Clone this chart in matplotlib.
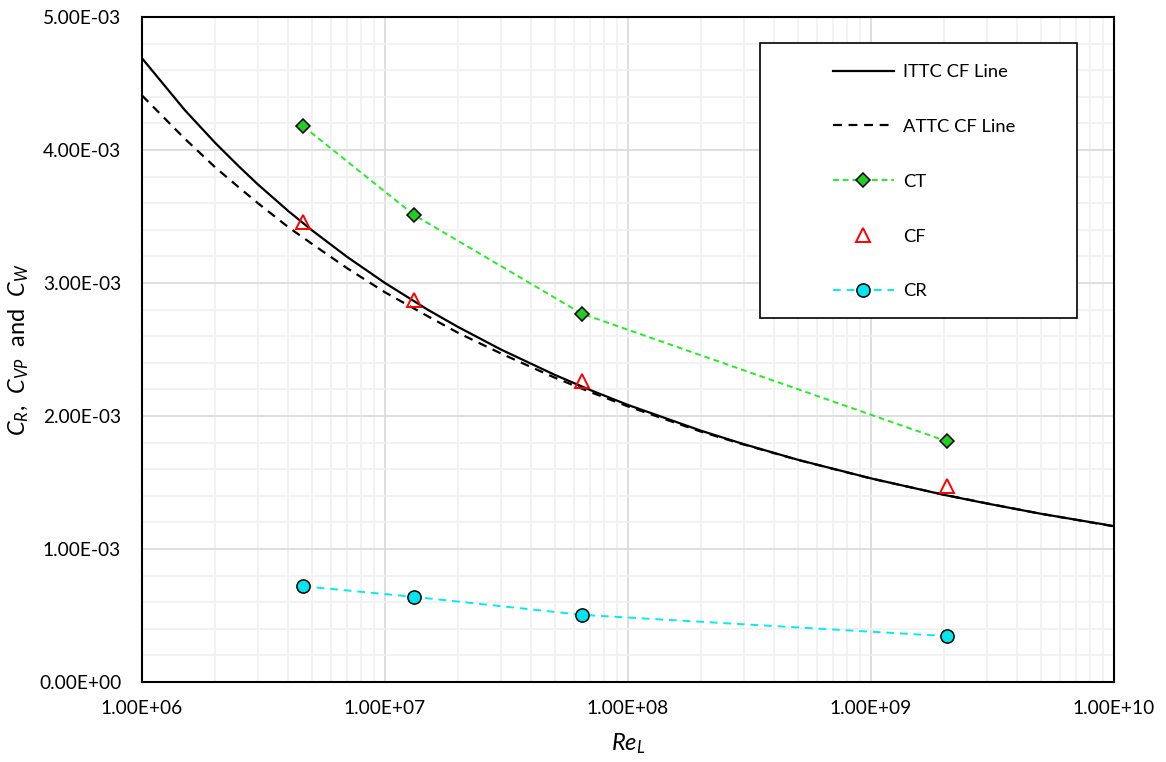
import numpy as np
import matplotlib
matplotlib.use("Agg")
import matplotlib.pyplot as plt
from matplotlib.patches import Rectangle
from matplotlib.ticker import FuncFormatter, LogLocator, MultipleLocator

plt.rcParams['font.family'] = ['Lato', 'DejaVu Sans']
plt.rcParams['mathtext.fontset'] = 'custom'
plt.rcParams['mathtext.rm'] = 'Lato'
plt.rcParams['mathtext.it'] = 'Lato:italic'

# friction lines, sampled along Re
re_line = [1e6, 1.5e6, 2e6, 2.5e6, 3e6, 4e6, 5e6, 7e6, 1e7, 1.5e7, 2e7, 3e7, 5e7, 7e7,
           1e8, 2e8, 3e8, 5e8, 1e9, 2e9, 3e9, 5e9, 1e10]
ittc_cf = [4.69e-3, 4.300e-3, 4.054e-3, 3.878e-3, 3.741e-3, 3.541e-3, 3.397e-3, 3.195e-3,
           3.00e-3, 2.799e-3, 2.669e-3, 2.500e-3, 2.309e-3, 2.195e-3,
           2.083e-3, 1.889e-3, 1.788e-3, 1.671e-3, 1.531e-3, 1.407e-3, 1.342e-3, 1.265e-3, 1.172e-3]
attc_cf = [4.41e-3, 4.085e-3, 3.87e-3, 3.72e-3, 3.60e-3, 3.42e-3, 3.295e-3, 3.11e-3,
           2.93e-3, 2.75e-3, 2.625e-3, 2.47e-3, 2.288e-3, 2.18e-3,
           2.072e-3, 1.882e-3, 1.785e-3, 1.67e-3, 1.53e-3, 1.408e-3, 1.343e-3, 1.265e-3, 1.17e-3]

# model / ship points
re_pts = [4.6e6, 1.32e7, 6.45e7, 2.05e9]
ct = [4.18e-3, 3.51e-3, 2.77e-3, 1.81e-3]
cf = [3.46e-3, 2.87e-3, 2.26e-3, 1.47e-3]
cr = [0.72e-3, 0.64e-3, 0.505e-3, 0.345e-3]

fig = plt.figure(figsize=(11.66, 7.62), dpi=100)
ax = fig.add_axes([142 / 1166, 1 - 682 / 762, 972 / 1166, 665 / 762])

ax.set_xscale('log')
ax.set_xlim(1e6, 1e10)
ax.set_ylim(0, 5e-3)

ax.xaxis.set_major_locator(LogLocator(base=10, numticks=10))
ax.xaxis.set_minor_locator(LogLocator(base=10, subs=np.arange(2, 10), numticks=50))
ax.yaxis.set_major_locator(MultipleLocator(1e-3))
ax.yaxis.set_minor_locator(MultipleLocator(2e-4))

ax.grid(which='major', color='#d9d9d9', linewidth=1.2, zorder=0)
ax.grid(which='minor', color='#f0f0f0', linewidth=1.2, zorder=0)
ax.set_axisbelow(True)

ax.xaxis.set_major_formatter(FuncFormatter(lambda v, p: f"{v:.2E}"))
ax.xaxis.set_minor_formatter(FuncFormatter(lambda v, p: ""))
ax.yaxis.set_major_formatter(FuncFormatter(lambda v, p: f"{v:.2E}"))
ax.tick_params(which='both', length=0, labelsize=13.8, colors='#000000')
ax.tick_params(axis='x', pad=13)
ax.tick_params(axis='y', pad=15)

for s in ax.spines.values():
    s.set_linewidth(1.5)
    s.set_color('black')

ax.plot(re_line, attc_cf, color='black', linestyle=(0, (4, 3)), linewidth=1.6,
        label='ATTC CF Line', zorder=3)
ax.plot(re_line, ittc_cf, color='black', linestyle='-', linewidth=1.6,
        label='ITTC CF Line', zorder=4)
ax.plot(re_pts, ct, color='#22ee22', linestyle=(0, (3, 2)), linewidth=1.4,
        marker='D', markersize=7.5, markerfacecolor='#22cc22', markeredgecolor='black',
        markeredgewidth=1.1, label='CT', zorder=5)
ax.plot(re_pts, cf, linestyle='none', marker='^', markersize=10,
        markerfacecolor='none', markeredgecolor='#ff0000', markeredgewidth=1.4,
        label='CF', zorder=5)
ax.plot(re_pts, cr, color='#00eeee', linestyle=(0, (4, 3)), linewidth=1.4,
        marker='o', markersize=9.5, markerfacecolor='#00e5ee', markeredgecolor='black',
        markeredgewidth=1.1, label='CR', zorder=5)

ax.set_xlabel('$Re_L$', fontsize=17, labelpad=10)
ax.set_ylabel(r'$C_R$,  $C_{VP}$  and  $C_W$', fontsize=17, labelpad=6)

# legend box drawn separately so the entries can sit inside with wide margins
ax.add_patch(Rectangle((0.6358, 0.5474), 0.3261, 0.4135, transform=ax.transAxes,
                       facecolor='white', edgecolor='black', linewidth=1.2, zorder=6))
handles, labels = ax.get_legend_handles_labels()
order = [1, 0, 2, 3, 4]
leg = ax.legend([handles[i] for i in order], [labels[i] for i in order],
                loc='upper left', bbox_to_anchor=(0.711, (682 - 64) / 665),
                frameon=False, fontsize=13.2, labelspacing=2.12, handlelength=3.3,
                handletextpad=0.5, borderpad=0, borderaxespad=0)
leg.set_zorder(7)

fig.savefig('out.png', dpi=100)
